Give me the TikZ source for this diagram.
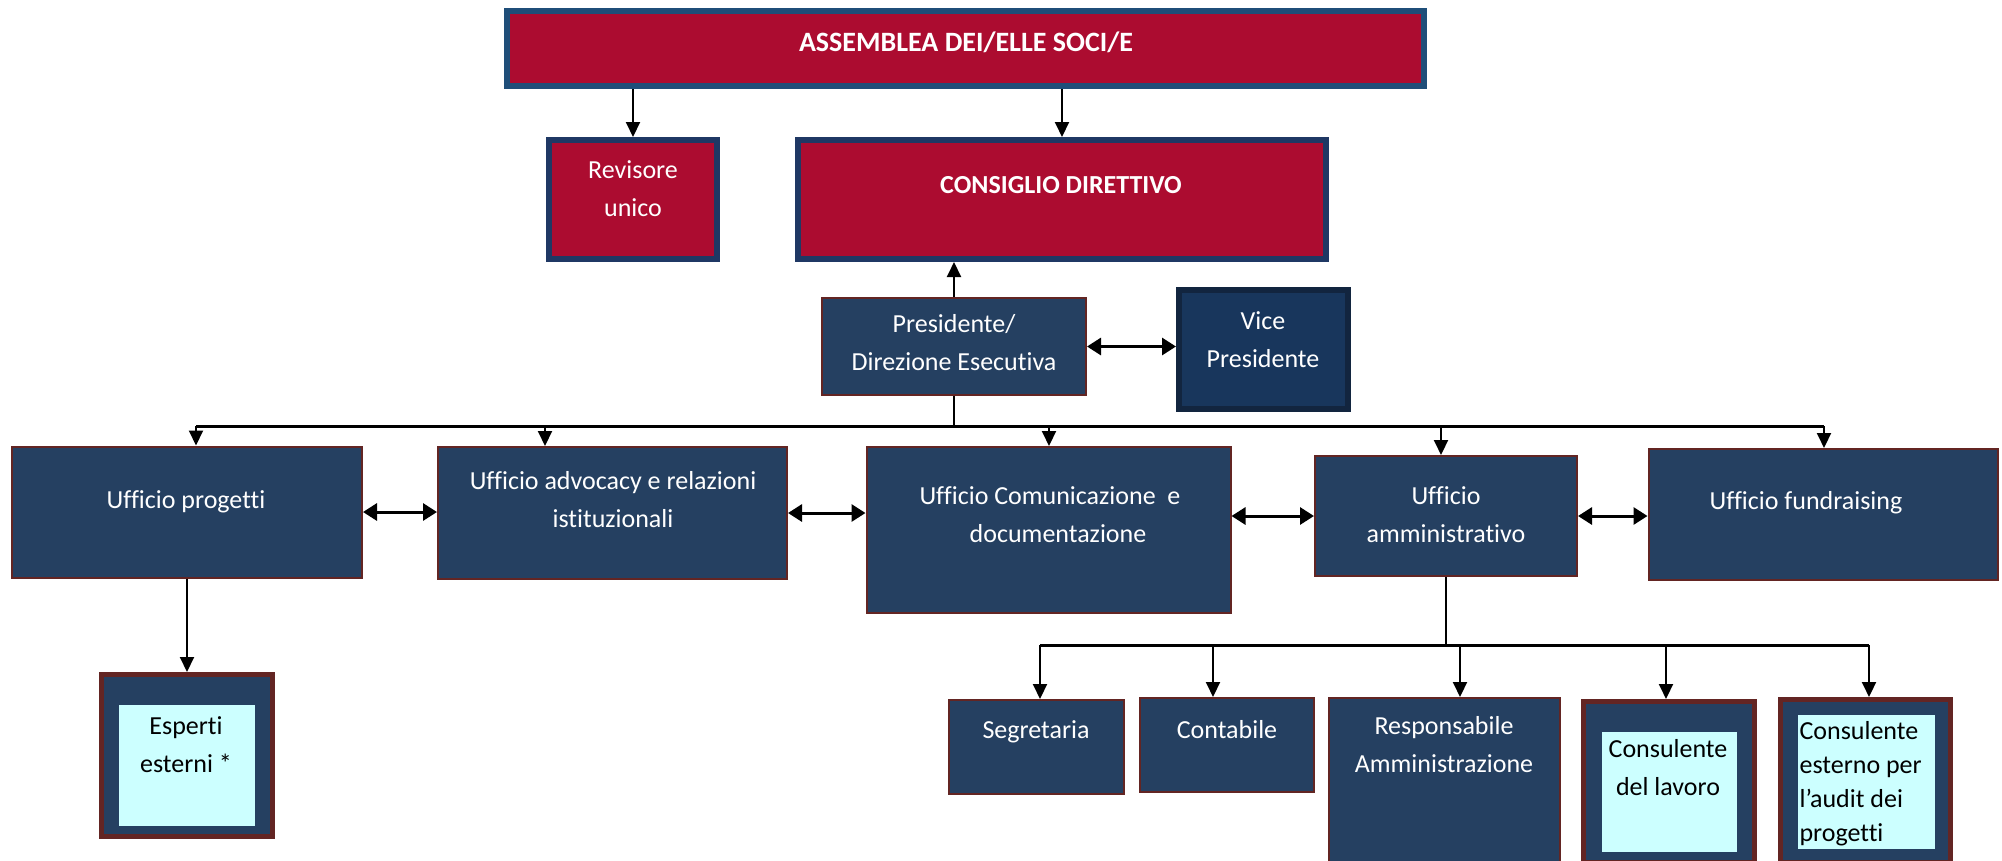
\documentclass[tikz,border=0pt]{standalone}
\usepackage{fontspec}
\setmainfont{Carlito}[Ligatures={NoCommon}]
\usepackage{tikz}
\usetikzlibrary{arrows.meta}

\definecolor{crimson}{RGB}{172,12,48}
\definecolor{assblue}{RGB}{31,78,121}
\definecolor{revblue}{RGB}{31,56,100}
\definecolor{navy}{RGB}{37,64,97}
\definecolor{darkred}{RGB}{99,37,35}
\definecolor{vicefill}{RGB}{24,54,92}
\definecolor{viceline}{RGB}{18,37,63}
\definecolor{lightcyan}{RGB}{204,255,255}

\newcommand{\orgfont}{\fontsize{26}{38}\selectfont}

\begin{document}
\begin{tikzpicture}[x=1pt, y=-1pt,
		red_box/.style={fill=crimson, line width=6pt, inner sep=0pt},
		navy_box/.style={draw=darkred, fill=navy, line width=2pt, inner sep=0pt},
		frame_box/.style={draw=darkred, fill=navy, line width=5pt, inner sep=0pt},
		cyan_box/.style={fill=lightcyan, inner sep=0pt},
		white_text/.style={text=white, align=center, font=\orgfont},
		black_text/.style={text=black, align=center, font=\orgfont},
		edge_style/.style={draw=black, line width=2pt, -{Triangle[length=15pt,width=14pt]}},
		double_edge/.style={draw=black, line width=3pt, {Triangle[length=14pt,width=17pt]}-{Triangle[length=14pt,width=17pt]}},
		bus_style/.style={draw=black, line width=3pt}]

		\useasboundingbox[fill=white] (0,0) rectangle (2002,860);

		% top level
		\node[red_box, draw=assblue, minimum width=917pt, minimum height=75pt] (ass) at (965.5,48.5) {};
		\node[red_box, draw=revblue, minimum width=168pt, minimum height=119pt] (rev) at (633,199.5) {};
		\node[red_box, draw=revblue, minimum width=528pt, minimum height=119pt] (cons) at (1062,199.5) {};
		\node[navy_box, minimum width=264pt, minimum height=97pt] (pres) at (954,346.5) {};
		\node[fill=vicefill, draw=viceline, line width=6pt, inner sep=0pt, minimum width=169pt, minimum height=119pt] (vice) at (1263.5,349.5) {};

		\node[white_text, font=\fontsize{28}{38}\selectfont\bfseries] (ass-t) at (966,42) {ASSEMBLEA DEI/ELLE SOCI/E};
		\node[white_text] (rev-t) at (633,189) {Revisore\\unico};
		\node[white_text, font=\orgfont\bfseries] (cons-t) at (1061,185) {CONSIGLIO DIRETTIVO};
		\node[white_text] (pres-t) at (954,343) {Presidente/\\Direzione Esecutiva};
		\node[white_text] (vice-t) at (1263,340) {Vice\\Presidente};

		% offices
		\node[navy_box, minimum width=350pt, minimum height=131pt] (prog) at (187,512) {};
		\node[navy_box, minimum width=349pt, minimum height=132pt] (adv) at (612.5,513) {};
		\node[navy_box, minimum width=364pt, minimum height=166pt] (com) at (1048.5,530) {};
		\node[navy_box, minimum width=262pt, minimum height=120pt] (amm) at (1446,516) {};
		\node[navy_box, minimum width=349pt, minimum height=131pt] (fund) at (1823,514.5) {};

		\node[white_text] (prog-t) at (186,502) {Ufficio progetti};
		\node[white_text] (adv-t) at (613,500) {Ufficio advocacy e relazioni\\istituzionali};
		\node[white_text] (com-t) at (1050,515) {Ufficio Comunicazione\ \ e\\\hspace*{16pt}documentazione};
		\node[white_text] (amm-t) at (1446,515) {Ufficio\\amministrativo};
		\node[white_text] (fund-t) at (1806,503) {Ufficio fundraising};

		% lower level
		\node[frame_box, minimum width=171pt, minimum height=162pt] (esp) at (187,755.5) {};
		\node[cyan_box, minimum width=136pt, minimum height=121pt] (esp-in) at (187,765.5) {};
		\node[navy_box, minimum width=175pt, minimum height=94pt] (seg) at (1036.5,747) {};
		\node[navy_box, minimum width=174pt, minimum height=94pt] (cont) at (1227,745) {};
		\node[navy_box, minimum width=231pt, minimum height=171pt] (resp) at (1444,783.5) {};
		\node[frame_box, minimum width=171pt, minimum height=161pt] (cl) at (1669,782) {};
		\node[cyan_box, minimum width=135pt, minimum height=120pt] (cl-in) at (1669.5,792) {};
		\node[frame_box, minimum width=170pt, minimum height=163pt] (ce) at (1865.5,781) {};
		\node[cyan_box, minimum width=137pt, minimum height=134pt] (ce-in) at (1866.5,782) {};

		\node[black_text] (esp-t) at (186,745) {Esperti\\esterni *};
		\node[white_text] (seg-t) at (1036,732) {Segretaria};
		\node[white_text] (cont-t) at (1227,730) {Contabile};
		\node[white_text] (resp-t) at (1444,745) {Responsabile\\Amministrazione};
		\node[black_text] (cl-t) at (1668,768) {Consulente\\del lavoro};
		\node[black_text, align=left, anchor=west, font=\fontsize{26}{34}\selectfont] (ce-t) at (1796,784) {Consulente\\esterno per\\l’audit dei\\progetti};

		% connectors
		\draw[edge_style] (ass.south -| rev.north) -- (rev.north);
		\draw[edge_style] (cons.north |- ass.south) -- (cons.north);
		\draw[edge_style] (pres.north) -- (pres.north |- cons.south);
		\draw[double_edge] (pres.east) -- (pres.east -| vice.west);

		\coordinate (b1) at (196,426);
		\coordinate (b2) at (545,426);
		\coordinate (b3) at (1049,426);
		\coordinate (b4) at (1441,426);
		\coordinate (b5) at (1824,426);
		\draw[draw=black, line width=2pt] (pres.south) -- (pres.south |- b1);
		\draw[bus_style] (b1) -- (b5);
		\draw[edge_style] (b1) -- (b1 |- prog.north);
		\draw[edge_style] (b2) -- (b2 |- adv.north);
		\draw[edge_style] (b3) -- (b3 |- com.north);
		\draw[edge_style] (b4) -- (b4 |- amm.north);
		\draw[edge_style] (b5) -- (b5 |- fund.north);

		\draw[double_edge] (prog.east) -- (prog.east -| adv.west);
		\draw[double_edge] (adv.east) -- (adv.east -| com.west);
		\draw[double_edge] (amm.west -| com.east) -- (amm.west);
		\draw[double_edge] (amm.east) -- (amm.east -| fund.west);

		\draw[edge_style] (prog.south) -- (esp.north);

		\coordinate (c1) at (1040,645);
		\coordinate (c2) at (1213,645);
		\coordinate (c3) at (1460,645);
		\coordinate (c4) at (1666,645);
		\coordinate (c5) at (1869,645);
		\draw[draw=black, line width=2pt] (amm.south) -- (amm.south |- c1);
		\draw[bus_style] (c1) -- (c5);
		\draw[edge_style] (c1) -- (c1 |- seg.north);
		\draw[edge_style] (c2) -- (c2 |- cont.north);
		\draw[edge_style] (c3) -- (c3 |- resp.north);
		\draw[edge_style] (c4) -- (c4 |- cl.north);
		\draw[edge_style] (c5) -- (c5 |- ce.north);

\end{tikzpicture}
\end{document}
